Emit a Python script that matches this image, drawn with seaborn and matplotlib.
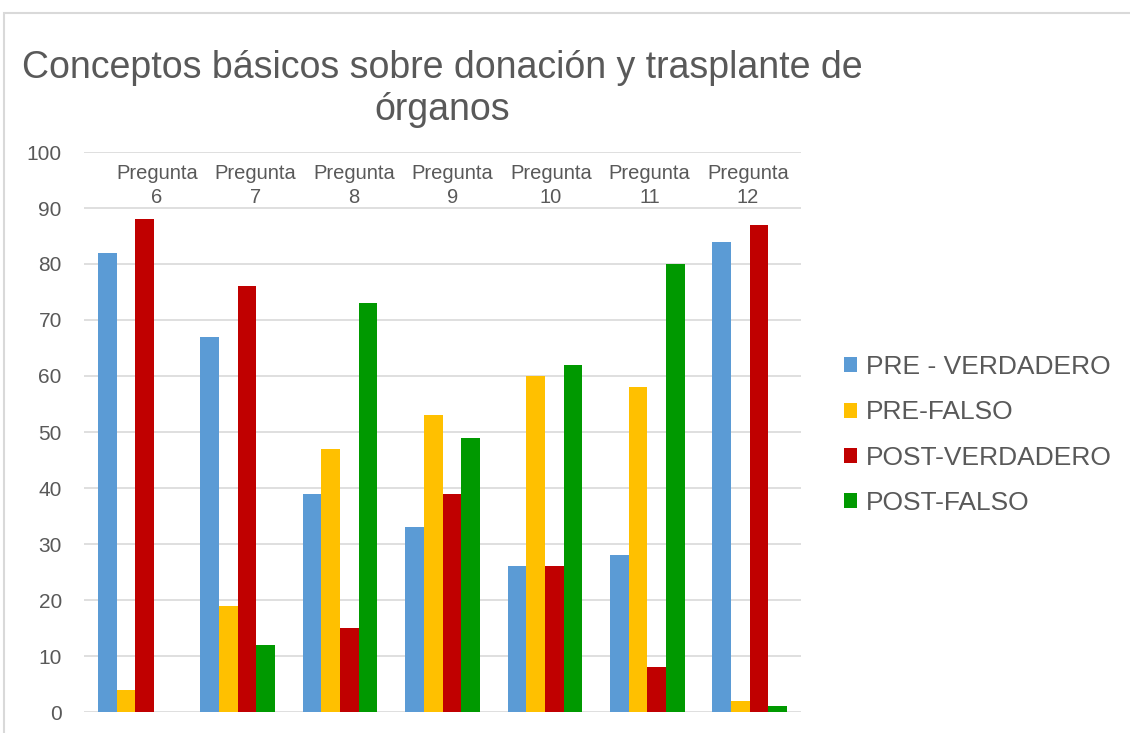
import matplotlib
matplotlib.use("Agg")
import matplotlib.pyplot as plt
import matplotlib.transforms as mtransforms
from matplotlib.patches import Rectangle
import seaborn as sns
import pandas as pd

categories = ["Pregunta\n6", "Pregunta\n7", "Pregunta\n8", "Pregunta\n9",
              "Pregunta\n10", "Pregunta\n11", "Pregunta\n12"]
series_names = ["PRE - VERDADERO", "PRE-FALSO", "POST-VERDADERO", "POST-FALSO"]
pre_verdadero = [82, 67, 39, 33, 26, 28, 84]
pre_falso = [4, 19, 47, 53, 60, 58, 2]
post_verdadero = [88, 76, 15, 39, 26, 8, 87]
post_falso = [0, 12, 73, 49, 62, 80, 1]
title = "Conceptos básicos sobre donación y trasplante de\nórganos"
colors = ["#5B9BD5", "#FFC000", "#C00000", "#009900"]

rows = []
for name, vals in zip(series_names, [pre_verdadero, pre_falso, post_verdadero, post_falso]):
    for c, v in zip(categories, vals):
        rows.append({"cat": c, "serie": name, "valor": v})
df = pd.DataFrame(rows)

sns.set_theme(style="white")
plt.rcParams["font.family"] = ["Liberation Sans", "DejaVu Sans"]
text_color = "#595959"

fig = plt.figure(figsize=(11.3, 7.33), dpi=100)
ax = fig.add_axes([84 / 1130, 21 / 733, (801 - 84) / 1130, (712 - 152) / 733])

sns.barplot(data=df, x="cat", y="valor", hue="serie", hue_order=series_names,
            order=categories, palette=colors, width=0.73, gap=0, dodge=True,
            saturation=1, edgecolor="none", linewidth=0, ax=ax)

ax.set_ylim(0, 100)
ax.set_xlim(-0.5, len(categories) - 0.5)
ax.set_yticks(range(0, 101, 10))
ax.yaxis.grid(True, color="#d9d9d9", linewidth=1.2)
ax.set_axisbelow(True)
for s in ax.spines.values():
    s.set_visible(False)
ax.tick_params(axis="y", length=0, pad=16, labelsize=15, labelcolor=text_color)
ax.set_xticks([])
ax.set_xlabel("")
ax.set_ylabel("")

# category labels at the top inside the plot
ax2 = ax.twiny()
ax2.set_xlim(-0.741, 6.538)
ax2.set_xticks(range(len(categories)))
ax2.set_xticklabels([])
ax2.tick_params(length=0)
for s in ax2.spines.values():
    s.set_visible(False)
trans = mtransforms.blended_transform_factory(ax2.transData, ax2.transAxes)
for i, c in enumerate(categories):
    ax2.text(i, 0.979, c, transform=trans, ha="center", va="top",
             fontsize=14.5, color=text_color, linespacing=1.32)

handles, labels = ax.get_legend_handles_labels()
ax.legend(handles, labels, loc="center left", bbox_to_anchor=(844 / 1130, 1 - 435 / 733),
          bbox_transform=fig.transFigure, frameon=False, fontsize=19,
          labelcolor=text_color, handlelength=0.5, handleheight=0.5,
          handletextpad=0.33, labelspacing=0.8, borderpad=0, borderaxespad=0)

fig.text(442 / 1130, 1 - 50 / 733, title, ha="center", va="top", fontsize=27,
         color=text_color, linespacing=1.2, multialignment="center")

fig.patches.append(Rectangle((3.5 / 1130, -0.1), 1.2, 1 - 12.5 / 733 + 0.1,
                             transform=fig.transFigure, fill=False,
                             edgecolor="#d9d9d9", linewidth=1.5))

fig.savefig("out.png", dpi=100, facecolor="white")
